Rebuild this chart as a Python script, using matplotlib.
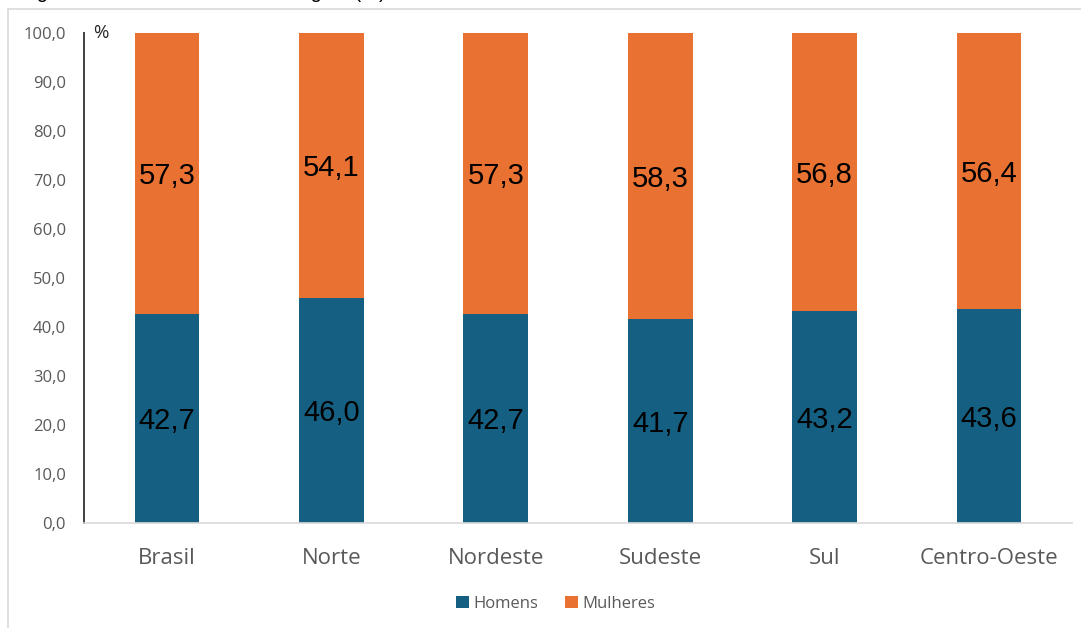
import matplotlib
matplotlib.use("Agg")
import matplotlib.pyplot as plt
from matplotlib.patches import Rectangle
import numpy as np

# Data
regions = ["Brasil", "Norte", "Nordeste", "Sudeste", "Sul", "Centro-Oeste"]
homens = [42.7, 46.0, 42.7, 41.7, 43.2, 43.6]
mulheres = [57.3, 54.1, 57.3, 58.3, 56.8, 56.4]
y_ticks = [0, 10, 20, 30, 40, 50, 60, 70, 80, 90, 100]

BLUE = "#156082"
ORANGE = "#E97132"
GREY = "#595959"

W, H = 1081, 628
fig = plt.figure(figsize=(W / 100, H / 100), dpi=100)
fig.patch.set_facecolor("white")

# Chart frame (partially outside the canvas)
fig.patches.append(Rectangle((8 / W, -0.1), 1.2, 1 - 9 / H + 0.1,
                             transform=fig.transFigure, fill=False,
                             edgecolor="#d9d9d9", linewidth=1.2))

# Title line, sitting above the top edge
fig.text(20 / W, 1.0 + 2 / H, "Figura 1 – Docentes de cada Região (%)",
         fontsize=14.5, family="Liberation Sans", color="black",
         ha="left", va="baseline")

ax = fig.add_axes([84 / W, 1 - 523 / H, (1072 - 84) / W, (523 - 33) / H])
x = np.arange(len(regions))
width = 0.395

b1 = ax.bar(x, homens, width, color=BLUE, label="Homens", zorder=2)
b2 = ax.bar(x, mulheres, width, bottom=homens, color=ORANGE,
            label="Mulheres", zorder=2)

def fmt(v):
    return f"{v:.1f}".replace(".", ",")

for xi, h, m in zip(x, homens, mulheres):
    ax.text(xi, h / 2, fmt(h), ha="center", va="center_baseline",
            fontsize=21, family="Liberation Sans", color="black")
    ax.text(xi, h + m / 2, fmt(m), ha="center", va="center_baseline",
            fontsize=21, family="Liberation Sans", color="black")

ax.set_xlim(-0.505, 5.505)
ax.set_ylim(0, 100)
ax.set_yticks(y_ticks)
ax.set_yticklabels([fmt(v) for v in y_ticks], family="Open Sans",
                   fontsize=12, color=GREY)
ax.set_xticks(x)
ax.set_xticklabels(regions, family="Open Sans", fontsize=16, color=GREY)
ax.tick_params(axis="y", length=0, pad=13)
ax.tick_params(axis="x", length=0, pad=18)

for s in ["top", "right"]:
    ax.spines[s].set_visible(False)
ax.spines["left"].set_color("#404040")
ax.spines["left"].set_linewidth(1.4)
ax.spines["bottom"].set_color("#d9d9d9")
ax.spines["bottom"].set_linewidth(1.2)

ax.text(93 / W, 1 - 33 / H, "%", transform=fig.transFigure, fontsize=13.5,
        family="Open Sans", color="#262626", ha="left", va="center")

leg = fig.legend(handles=[b1, b2], labels=["Homens", "Mulheres"],
                 loc="center", bbox_to_anchor=(556 / W, 1 - 604 / H),
                 ncol=2, frameon=False, handlelength=0.75, handleheight=0.75,
                 handletextpad=0.3, columnspacing=1.6,
                 prop={"family": "Open Sans", "size": 12})
for t in leg.get_texts():
    t.set_color(GREY)

fig.savefig("out.png", dpi=100, facecolor="white")
